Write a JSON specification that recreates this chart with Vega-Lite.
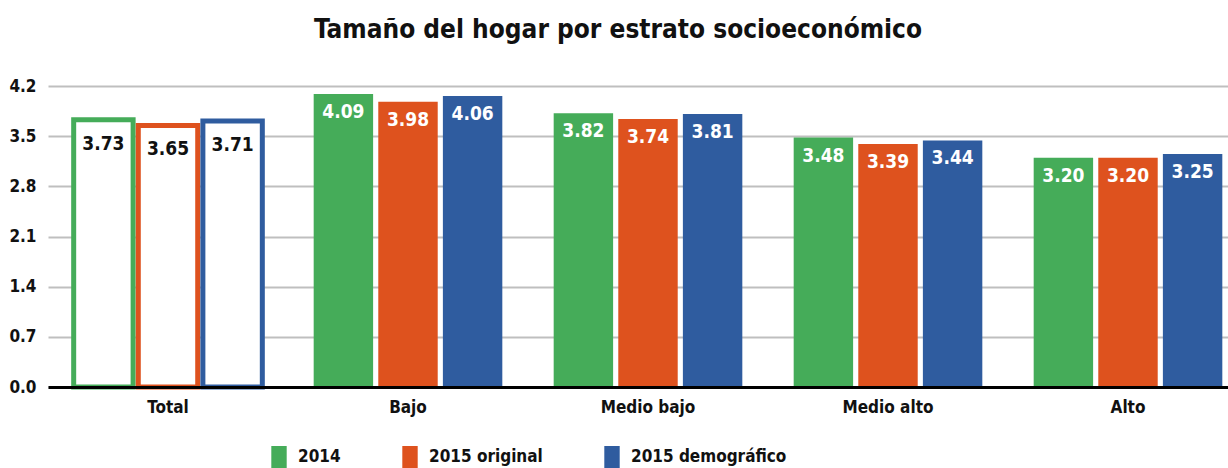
{
  "$schema": "https://vega.github.io/schema/vega-lite/v6.json",
  "autosize": {"type": "none"},
  "padding": {"left": 48, "top": 86, "right": 0, "bottom": 81},
  "width": 1180,
  "height": 301,
  "background": "white",
  "title": {
    "text": "Tamaño del hogar por estrato socioeconómico",
    "font": "DejaVu Sans Condensed, sans-serif",
    "fontSize": 26,
    "fontWeight": "bold",
    "color": "#111111",
    "anchor": "middle",
    "dx": -20,
    "offset": 34
  },
  "config": {
    "view": {"stroke": null},
    "font": "DejaVu Sans Condensed, sans-serif"
  },
  "data": {
    "values": [
      {"grupo": "Total", "serie": "2014", "valor": 3.73},
      {"grupo": "Total", "serie": "2015 original", "valor": 3.65},
      {"grupo": "Total", "serie": "2015 demográfico", "valor": 3.71},
      {"grupo": "Bajo", "serie": "2014", "valor": 4.09},
      {"grupo": "Bajo", "serie": "2015 original", "valor": 3.98},
      {"grupo": "Bajo", "serie": "2015 demográfico", "valor": 4.06},
      {"grupo": "Medio bajo", "serie": "2014", "valor": 3.82},
      {"grupo": "Medio bajo", "serie": "2015 original", "valor": 3.74},
      {"grupo": "Medio bajo", "serie": "2015 demográfico", "valor": 3.81},
      {"grupo": "Medio alto", "serie": "2014", "valor": 3.48},
      {"grupo": "Medio alto", "serie": "2015 original", "valor": 3.39},
      {"grupo": "Medio alto", "serie": "2015 demográfico", "valor": 3.44},
      {"grupo": "Alto", "serie": "2014", "valor": 3.20},
      {"grupo": "Alto", "serie": "2015 original", "valor": 3.20},
      {"grupo": "Alto", "serie": "2015 demográfico", "valor": 3.25}
    ]
  },
  "encoding": {
    "x": {
      "field": "grupo",
      "type": "nominal",
      "sort": ["Total", "Bajo", "Medio bajo", "Medio alto", "Alto"],
      "scale": {"range": [0, 1200], "paddingInner": 0.214, "paddingOuter": 0.107},
      "axis": {
        "title": null,
        "labelAngle": 0,
        "labelFontSize": 17,
        "labelFontWeight": "bold",
        "labelColor": "#111111",
        "labelPadding": 12,
        "ticks": false,
        "domainColor": "#000000",
        "domainWidth": 3,
        "zindex": 1
      }
    },
    "xOffset": {
      "field": "serie",
      "type": "nominal",
      "sort": ["2014", "2015 original", "2015 demográfico"],
      "scale": {"paddingInner": 0.08}
    },
    "y": {
      "field": "valor",
      "type": "quantitative",
      "scale": {"domain": [0, 4.2], "nice": false},
      "axis": {
        "title": null,
        "values": [0, 0.7, 1.4, 2.1, 2.8, 3.5, 4.2],
        "format": ".1f",
        "labelFontSize": 17,
        "labelFontWeight": "bold",
        "labelColor": "#111111",
        "labelPadding": 12,
        "ticks": false,
        "domain": false,
        "gridColor": "#bfbfbf",
        "gridWidth": 2
      }
    }
  },
  "layer": [
    {
      "transform": [{"filter": "datum.grupo != 'Total'"}],
      "mark": {"type": "bar"},
      "encoding": {
        "color": {
          "field": "serie",
          "type": "nominal",
          "sort": ["2014", "2015 original", "2015 demográfico"],
          "scale": {"domain": ["2014", "2015 original", "2015 demográfico"], "range": ["#45ac59", "#de521e", "#2f5c9f"]},
          "legend": {
            "title": null,
            "orient": "none",
            "direction": "horizontal",
            "legendX": 220,
            "legendY": 360,
            "symbolType": "M-0.7,-1H0.7V1H-0.7Z",
            "symbolSize": 484,
            "symbolStrokeWidth": 0,
            "symbolOpacity": 1,
            "labelFontSize": 17,
            "labelFontWeight": "bold",
            "labelColor": "#111111",
            "labelOffset": 8,
            "columnPadding": 58
          }
        }
      }
    },
    {
      "transform": [{"filter": "datum.grupo == 'Total'"}],
      "mark": {"type": "bar", "fill": "white", "strokeWidth": 5},
      "encoding": {
        "stroke": {
          "field": "serie",
          "type": "nominal",
          "scale": {"domain": ["2014", "2015 original", "2015 demográfico"], "range": ["#45ac59", "#de521e", "#2f5c9f"]},
          "legend": null
        }
      }
    },
    {
      "transform": [{"filter": "datum.grupo != 'Total'"}],
      "mark": {"type": "text", "baseline": "top", "dy": 9, "fontSize": 19, "fontWeight": "bold", "color": "white"},
      "encoding": {"text": {"field": "valor", "type": "quantitative", "format": ".2f"}}
    },
    {
      "transform": [{"filter": "datum.grupo == 'Total'"}],
      "mark": {"type": "text", "baseline": "top", "dy": 15, "fontSize": 19, "fontWeight": "bold", "color": "#111111"},
      "encoding": {"text": {"field": "valor", "type": "quantitative", "format": ".2f"}}
    }
  ]
}
